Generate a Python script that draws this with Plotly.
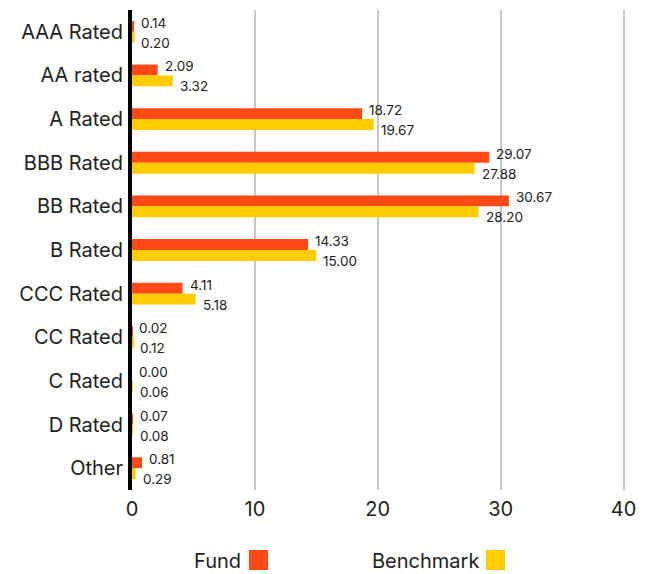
import plotly.graph_objects as go

categories = ["AAA Rated", "AA rated", "A Rated", "BBB Rated", "BB Rated", "B Rated",
              "CCC Rated", "CC Rated", "C Rated", "D Rated", "Other"]
fund = [0.14, 2.09, 18.72, 29.07, 30.67, 14.33, 4.11, 0.02, 0.00, 0.07, 0.81]
benchmark = [0.20, 3.32, 19.67, 27.88, 28.20, 15.00, 5.18, 0.12, 0.06, 0.08, 0.29]
x_ticks = [0, 10, 20, 30, 40]

FUND_C = "#FF4A17"
BENCH_C = "#FFCC00"
FONT = "Inter"
TXT = "#222222"

fig = go.Figure()
fig.add_trace(go.Bar(y=categories, x=fund, orientation="h", name="Fund",
                     marker=dict(color=FUND_C, line=dict(width=0))))
fig.add_trace(go.Bar(y=categories, x=benchmark, orientation="h", name="Benchmark",
                     marker=dict(color=BENCH_C, line=dict(width=0))))

# value labels: fund above-right, benchmark below-right of its bar end
for cat, f, b in zip(categories, fund, benchmark):
    fig.add_annotation(x=f, y=cat, text=f"{f:.2f}", showarrow=False,
                       xanchor="left", yanchor="middle", xshift=5, yshift=9,
                       font=dict(size=13.5, color=TXT, family=FONT))
    fig.add_annotation(x=b, y=cat, text=f"{b:.2f}", showarrow=False,
                       xanchor="left", yanchor="middle", xshift=5, yshift=-11,
                       font=dict(size=13.5, color=TXT, family=FONT))

# page body has an 8px margin, so the figure is sized/offset to compensate
fig.update_layout(
    width=643, height=566,
    margin=dict(l=124, r=9, t=2, b=84),
    paper_bgcolor="white", plot_bgcolor="white",
    barmode="group", bargap=0.5, bargroupgap=0,
    showlegend=False,
    font=dict(family=FONT, color=TXT),
    xaxis=dict(range=[0, 41.5], tickvals=x_ticks, showgrid=True, automargin=False,
               gridcolor="#c8c8c8", gridwidth=2, zeroline=False, showline=False,
               ticklabelstandoff=5,
               tickfont=dict(size=20, color=TXT, family=FONT), ticks=""),
    yaxis=dict(autorange="reversed", showline=True, linecolor="black", linewidth=4,
               ticks="", ticklabelstandoff=1, showgrid=False, automargin=False,
               tickfont=dict(size=20, color=TXT, family=FONT)),
)

# custom legend: text followed by square
fig.add_annotation(xref="paper", yref="paper", x=(241 - 130) / 510, y=(490 - 561) / 480,
                   xanchor="right", yanchor="middle", text="Fund", showarrow=False,
                   font=dict(size=20, color=TXT, family=FONT))
fig.add_shape(type="rect", xref="paper", yref="paper",
              x0=(247 - 130) / 510, x1=(266 - 130) / 510,
              y0=(490 - 570) / 480, y1=(490 - 550) / 480,
              fillcolor=FUND_C, line=dict(width=0))
fig.add_annotation(xref="paper", yref="paper", x=(479 - 130) / 510, y=(490 - 561) / 480,
                   xanchor="right", yanchor="middle", text="Benchmark", showarrow=False,
                   font=dict(size=20, color=TXT, family=FONT))
fig.add_shape(type="rect", xref="paper", yref="paper",
              x0=(484 - 130) / 510, x1=(503 - 130) / 510,
              y0=(490 - 570) / 480, y1=(490 - 550) / 480,
              fillcolor=BENCH_C, line=dict(width=0))

fig.write_html("out.html")
